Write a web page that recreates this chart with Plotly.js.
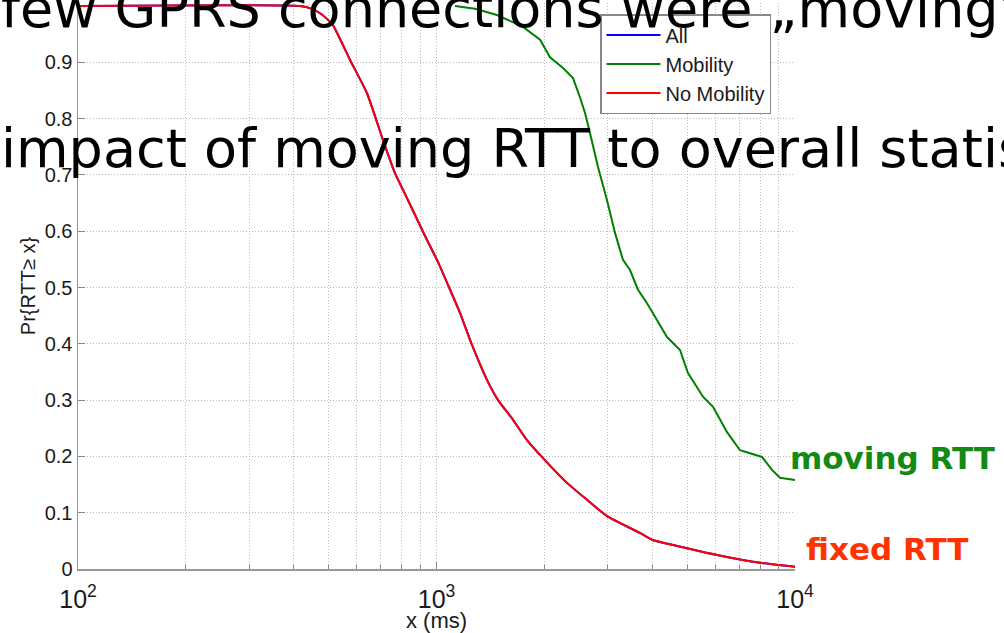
<!DOCTYPE html>
<html><head><meta charset="utf-8">
<script src="https://cdn.plot.ly/plotly-3.0.1.min.js"></script>
<style>html,body{margin:0;padding:0;background:#fff}#chart{width:1004px;height:633px}</style>
</head><body><div id="chart"></div>
<script>
// ---- data (RTT in ms, complementary CDF) ----
const seriesNames = ['All', 'Mobility', 'No Mobility'];
const allX   = [100,416,449,479,514,574,640,709,766,833,917,1010,1091,1163,1256,1383,1485,1635,1788,1982,2312,2629,2990,3695,3991,4996,6060,7988,10000];
const allY   = [1.0,1.0,0.995,0.985,0.966,0.904,0.845,0.762,0.703,0.655,0.599,0.545,0.496,0.455,0.398,0.336,0.300,0.265,0.229,0.197,0.153,0.123,0.094,0.064,0.052,0.037,0.025,0.011,0.004];
const mobX   = [1126,1281,1475,1743,1945,2073,2254,2403,2513,2596,2681,2822,2990,3147,3313,3465,3648,3866,4070,4395,4778,5029,5538,5906,6463,7024,8089,8627,9083,10000];
const mobY   = [1.0,0.995,0.984,0.963,0.94,0.909,0.89,0.872,0.838,0.81,0.774,0.714,0.655,0.597,0.549,0.531,0.496,0.472,0.448,0.412,0.389,0.348,0.306,0.288,0.243,0.211,0.199,0.176,0.162,0.158];
const noMobX = [100,416,449,479,514,574,640,709,766,833,917,1010,1091,1163,1256,1383,1485,1635,1788,1982,2312,2629,2990,3695,3991,4996,6060,7988,10000];
const noMobY = [1.0,1.0,0.995,0.985,0.966,0.904,0.845,0.762,0.703,0.655,0.599,0.545,0.496,0.455,0.398,0.336,0.300,0.265,0.229,0.197,0.153,0.123,0.094,0.064,0.052,0.037,0.025,0.011,0.004];
const yTicks = [0,0.1,0.2,0.3,0.4,0.5,0.6,0.7,0.8,0.9];
const xRangeExp = [2, 4];
const slideLines = ['few GPRS connections were „moving“', 'impact of moving RTT to overall statistics'];
const curveLabels = ['moving RTT', 'fixed RTT'];

// ---- layout helpers ----
const L = 78, R = 209, T = 3, B = 64, FW = 1004, FH = 633;
const W = FW - L - R, H = FH - T - B;
const px = x => (x - L) / W;
const py = y => (FH - B - y) / H;

const fam = 'Liberation Sans, Arial, sans-serif';
const axisFont = {family: fam, size: 20, color: '#1a1a1a'};
const legendFont = {family: fam, size: 20, color: '#1a1a1a'};
const gridDash = '1px,2px';

const traces = [
  {x: allX, y: allY, name: seriesNames[0], mode: 'lines', line: {color: '#0000ff', width: 2, shape: 'spline', smoothing: 0.5}},
  {x: mobX, y: mobY, name: seriesNames[1], mode: 'lines', line: {color: '#008000', width: 2}},
  {x: noMobX, y: noMobY, name: seriesNames[2], mode: 'lines', line: {color: '#ff0000', width: 2, shape: 'spline', smoothing: 0.5}}
];

const layout = {
  width: FW, height: FH,
  margin: {l: L, r: R, t: T, b: B, pad: 0},
  paper_bgcolor: '#fff', plot_bgcolor: '#fff',
  font: axisFont,
  showlegend: true,
  legend: {
    x: px(600), y: py(14), xanchor: 'left', yanchor: 'top',
    bgcolor: '#fff', bordercolor: '#888', borderwidth: 1.5,
    font: legendFont, itemwidth: 54, tracegroupgap: 0
  },
  xaxis: {
    type: 'log', range: xRangeExp, dtick: 1, exponentformat: 'power',
    tickfont: axisFont, ticks: 'inside', ticklen: 7, tickcolor: '#888',
    showline: true, linecolor: '#999', linewidth: 1.5, mirror: false,
    showgrid: true, gridcolor: '#bbb', griddash: gridDash, gridwidth: 1,
    zeroline: false, ticklabelstandoff: 8,
    minor: {dtick: 'D1', ticks: 'inside', ticklen: 4, tickcolor: '#888', showgrid: true, gridcolor: '#bbb', griddash: gridDash, gridwidth: 1},
    title: {text: 'x (ms)', font: {family: fam, size: 22, color: '#1a1a1a'}, standoff: 7}
  },
  yaxis: {
    range: [0, H / 563], tickvals: yTicks,
    tickfont: axisFont, ticks: 'inside', ticklen: 7, tickcolor: '#888',
    showline: true, linecolor: '#999', linewidth: 1.5, mirror: false,
    showgrid: true, gridcolor: '#bbb', griddash: gridDash, gridwidth: 1,
    zeroline: false,
    title: {text: 'Pr{RTT≥ x}', font: {family: fam, size: 20, color: '#1a1a1a'}, standoff: 3}
  },
  annotations: [
    {text: slideLines[0], xref: 'paper', yref: 'paper', x: px(-1), y: py(9), xanchor: 'left', yanchor: 'middle',
     showarrow: false, font: {family: 'DejaVu Sans', size: 54, color: '#000'}},
    {text: slideLines[1], xref: 'paper', yref: 'paper', x: px(-1), y: py(149), xanchor: 'left', yanchor: 'middle',
     showarrow: false, font: {family: 'DejaVu Sans', size: 54, color: '#000'}},
    {text: '<b>' + curveLabels[0] + '</b>', xref: 'paper', yref: 'paper', x: px(788), y: py(458), xanchor: 'left', yanchor: 'middle',
     showarrow: false, font: {family: 'DejaVu Sans', size: 31, color: '#138a13'}},
    {text: '<b>' + curveLabels[1] + '</b>', xref: 'paper', yref: 'paper', x: px(804), y: py(549), xanchor: 'left', yanchor: 'middle',
     showarrow: false, font: {family: 'DejaVu Sans', size: 31, color: '#ff3300'}}
  ]
};

Plotly.newPlot('chart', traces, layout, {displayModeBar: false, staticPlot: true});
</script>
</body></html>
